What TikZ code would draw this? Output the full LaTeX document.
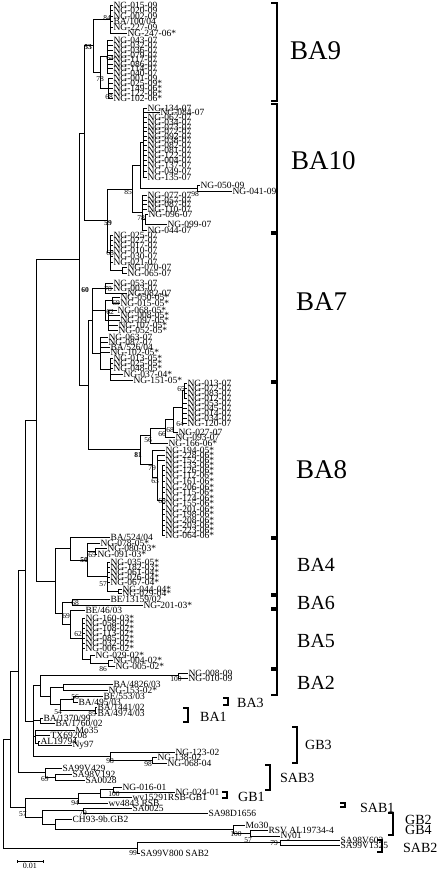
\documentclass[tikz,border=0pt]{standalone}
\usepackage{fontspec}
\setmainfont{Liberation Serif}
\usetikzlibrary{positioning}

\begin{document}
\begin{tikzpicture}[x=1pt, y=-1pt,
  br/.style={line width=0.55pt},
  brk/.style={line width=1.1pt},
  leaf/.style={anchor=west, inner sep=0.4pt, font=\fontsize{9.5}{9.5}\selectfont},
  bs/.style={inner sep=0, font=\fontsize{7.5}{7.5}\selectfont},
  bsb/.style={inner sep=0, font=\fontsize{7.5}{7.5}\selectfont\bfseries},
  grp/.style={anchor=west, inner sep=0}]
  \useasboundingbox (0,0) rectangle (440,871);
  % internal nodes of the tree
  \foreach \n/\x/\y in {A/110/19, B1/107/56.5, B2/108/88, B/100/72.3, N53/93/45.6,
      U1/143/142.5, N98/197/188, U/140/165.3, V1/145/219, V/142/212.5, N85/132/188.9,
      T2/122/270, T68/110/252.5, N59/107/220.7, R1/84/133.2,
      C1/105/288, C2a/112/300, C2b/108/320, C2/105/310, C3a/110/369, C3/100/353, S7/92/320.5,
      D1/184/390.5, D/182/406.8, N68b/173/419.4, N66/165/428.2, N56/150/435.6,
      N68c/162/500, N63/157/477.5, N79/152/463.8, N81/140/449.7, R2/88/385.1, N60/79/259.2,
      E65/95/551, E2/118/591, E57/107/576.5, E50/87/559.8, E/70/548.4, F68/72/602,
      G86/108/663, G3/90/659, G62/82/638.5, G69/70/624.3, H1/62/613.1, H/55/580.8, T/36/420,
      J100/178/675.5, K1/63/687, K56/73/699, K85/95/710, K54/60/704.5, K2/50/695.8, L/40/685.6,
      M1/40/720.5, M3/38/743, M2/35/736.5, N98b/152/760, N98c/110/756, A1/33/720.8, A2/25/570.4,
      S2/55/777, S69/45/772.5, X1/18/671.5,
      P100/113/789.5, P1/100/793.3, P94/78/798.1, P79/83/810.5, Q57/250/833, Q100/233/829,
      P55/55/824, P42/42/817.3, N57/25/807.7, X0/10/739.6,
      Y79/280/842.5, Y99/137/848, Rt/3/793.8}
    \coordinate (\n) at (\x,\y);
  % branches between internal nodes
  \foreach \p/\c in {N53/A, N53/B, B/B1, B/B2, R1/N53, R1/N59, N59/N85, N59/T68, N85/U, N85/V,
      U/U1, U/N98, V/V1, T68/T2, N60/R1, N60/R2, R2/S7, R2/N81, S7/C1, S7/C2, S7/C3,
      C2/C2a, C2/C2b, C3/C3a, N81/N56, N81/N79, N56/N66, N66/N68b, N68b/D, D/D1,
      N79/N63, N63/N68c, T/N60, T/H, H/E, H/H1, E/E50, E50/E65, E50/E57, E57/E2,
      H1/F68, H1/G69, G69/G62, G62/G3, G3/G86, A2/T, A2/A1, A1/L, A1/M1, A1/M2, A1/N98c,
      L/J100, L/K2, K2/K1, K2/K54, K54/K56, K54/K85, M2/M3, N98c/N98b, X1/A2, X1/S69,
      S69/S2, X0/X1, X0/N57, N57/P94, N57/P42, P94/P1, P1/P100, P42/P79, P42/P55,
      P55/Q100, Q100/Q57, Rt/X0, Rt/Y99, Y99/Y79}
    \draw[br] (\p) |- (\c);
  % leaves
  \foreach \p/\y/\x/\t [count=\i] in {
      A/5/113/NG-015-09, A/10.5/113/NG-020-09, A/16/113/NG-002-09, A/21.5/113/{BA/100/04},
      A/27/113/NG-227-09, A/33/127/NG-247-06*,
      B1/40/113/NG-043-07, B1/45/113/NG-032-07, B1/50/113/NG-036-07, B1/55/113/NG-079-07,
      B1/59.5/113/NG-117-07, B1/64/113/NG-086-07, B1/68.5/113/NG-114-07, B1/73/113/NG-040-07,
      B2/78/113/NG-001-09, B2/83/113/NG-025-09*, B2/88/113/NG-149-06*, B2/93/113/NG-122-06*,
      B2/98/113/NG-102-06*,
      U1/108/147/NG-134-07, U1/112.5/160/NG-084-07, U1/117/147/NG-062-07, U1/122/147/NG-034-07,
      U1/127/147/NG-073-07, U1/131.5/147/NG-072-07, U1/136/147/NG-092-07, U1/140.5/147/NG-038-07,
      U1/145/147/NG-082-07, U1/150/147/NG-081-07, U1/155/147/NG-122-07, U1/160/147/NG-004-07,
      U1/165/147/NG-137-07, U1/171/147/NG-049-07, U1/177/147/NG-135-07,
      N98/185/200/NG-050-09, N98/191/232/NG-041-09,
      V/195/147/NG-077-07, V/200/147/NG-057-07, V/204.5/147/NG-087-07, V/209/147/NG-110-07,
      V1/214/148/NG-096-07, V1/224/167/NG-099-07, V/230/147/NG-044-07,
      T68/235/113/NG-025-07, T68/240/113/NG-027-07, T68/245/113/NG-017-07, T68/250.5/113/NG-010-07,
      T68/256/113/NG-030-07, T68/262/113/NG-021-07, T2/267/127/NG-070-07, T2/273/127/NG-065-07,
      C1/283/113/NG-053-07, C1/288/113/NG-003-07, C1/293/127/NG-082-07,
      C2a/297/120/NG-050-05*, C2a/303/120/NG-015-05*,
      C2b/310/117/NG-068-05*, C2b/315/120/NG-008-05*, C2b/320/120/NG-097-05*,
      C2b/325/118/NG-107-05*, C2b/330/118/NG-052-05*,
      C3/337/108/NG-063-07, C3/342/108/NG-087-07, C3/347/110/{BA/526/04}, C3/352/110/NG-102-05*,
      C3a/358/113/NG-013-05*, C3a/363/113/NG-025-05*, C3a/368/113/NG-048-05*,
      C3a/374/123/NG-037-04*, C3a/380/133/NG-151-05*,
      D1/383/187/NG-013-07, D1/388/187/NG-072-07, D1/393/187/NG-083-07, D1/398/187/NG-012-07,
      D/403/187/NG-053-07, D/408/187/NG-045-07, D/413/187/NG-014-07, D/418/187/NG-034-07,
      D/423/187/NG-120-07, N68b/432/178/NG-027-07, N66/437/175/NG-093-07, N56/443/168/NG-166-06*,
      N79/450/165/NG-194-05*, N63/455/165/NG-228-06*, N63/460/165/NG-152-06*,
      N68c/465/165/NG-133-06*, N68c/470/165/NG-126-06*, N68c/475/165/NG-112-06*,
      N68c/481/165/NG-161-06*, N68c/487/165/NG-206-06*, N68c/492/165/NG-115-06*,
      N68c/498/165/NG-174-06*, N68c/503/165/NG-155-06*, N68c/509/165/NG-201-06*,
      N68c/514/165/NG-198-06*, N68c/520/165/NG-208-06*, N68c/525/165/NG-203-06*,
      N68c/530/165/NG-223-06*, N68c/535/165/NG-064-06*,
      E/537/110/{BA/524/04}, E50/543/100/NG-078-05*, E65/548/107/NG-080-03*, E65/554/97/NG-091-03*,
      E57/562/110/NG-035-05*, E57/567/110/NG-182-03*, E57/572/110/NG-061-04*,
      E57/577/110/NG-026-04*, E57/582/110/NG-067-04*, E2/589/122/NG-044-04*, E2/593/122/NG-029-04*,
      F68/599/110/{BE/13159/02}, F68/605/143/NG-201-03*,
      G69/610/85/{BE/46/03}, G62/618/85/NG-160-03*, G62/623/85/NG-058-02*, G62/628/85/NG-108-02*,
      G62/633/85/NG-113-02*, G62/638/85/NG-085-02*, G62/643/85/NG-032-02*, G62/648/85/NG-006-02*,
      G3/655/95/NG-029-02*, G86/660/113/NG-004-02*, G86/666/115/NG-005-02*,
      J100/673/188/NG-008-09, J100/678/188/NG-010-09,
      K1/684/113/{BA/4826/03}, K1/690/108/NG-153-02*, K56/696/103/{BE/553/03}, K56/702/78/{BA/495/03},
      K85/707/97/{BA/1441/02}, K85/713/97/{BA/4974/03}, M1/718/43/{BA/1370/99}, M1/723/55/{BA/1760/02},
      M2/730/75/Mo35, M2/735/50/TX69208, M3/741/40/AL19794, M3/745/72/Ny97,
      N98c/752/175/NG-123-02, N98b/757/157/NG-138-02, N98b/763/167/NG-068-04,
      S69/768/62/SA99V429, S2/774/72/SA98V192, S2/780/85/SA0028,
      P100/787/122/NG-016-01, P100/792/175/NG-024-01, P1/797/132/wv15291RSB-GB1,
      P94/803/108/{wv4843 RSB}, P79/808/132/SA0025, P79/813/208/SA98D1656,
      P55/819/72/CH93-9b.GB2, Q100/825/245/Mo30, Q57/830/268/{RSV AL19734-4}, Q57/836/280/Ny01,
      Y79/840/340/SA98V602, Y79/845/340/SA99V1325, Y99/853/140/{SA99V800 SAB2}}
    {\node[leaf] (l\i) at (\x,\y) {\t};
     \draw[br] (\p) |- (l\i.west);}
  % bootstrap values
  \foreach \x/\y/\t [count=\i] in {107/18/84, 110/58/64, 100/79/78, 109/97/68, 128/192/85,
      195/194/98, 141/218/78, 110/253/68, 108/289/78, 116/303/69, 110/312/62, 181/389/65,
      180/424/64, 170/430/68, 162/434/66, 148/440/56, 152/468/79, 155/481/63, 162/501/68,
      92/555/65, 103/584/57, 75/603/68, 66/616/69, 78/634/62, 103/669/86, 176/679/100,
      75/697/56, 58/712/54, 92/714/85, 110/761/98, 148/764/98, 45/779/69, 114/794/100,
      75/803/94, 83/813/79, 23/814/57, 236/834/100, 248/840/57, 274/843/79, 133/853/99}
    \node[bs] (bs\i) at (\x,\y) {\t};
  \foreach \x/\y/\t [count=\i] in {88/47/53, 108/223/59, 85/290/60, 138/455/81, 84/560/50}
    \node[bsb] (bb\i) at (\x,\y) {\t};
  % genotype brackets
  \foreach \n/\ya/\yb/\lx/\ly/\fs in {BA9/3/101/290/51/27, BA10/104/232/291/161/27,
      BA7/234/381/296/302/27, BA8/383/537/296/470/27, BA4/539/594/297/565/20,
      BA6/596/608/297/603/20, BA5/610/668/297/641/20, BA2/670/695/297/683/20}
    {\draw[brk] (271,\ya) -- (277,\ya) -- (277,\yb) -- (271,\yb);
     \node[grp, font=\fontsize{\fs}{\fs}\selectfont] (g\n) at (\lx,\ly) {\n};}
  \foreach \n/\bx/\ya/\yb/\lx/\ly in {BA3/228/698/705/237/703, BA1/188/708/722/200/717,
      GB3/297/727/763/305/745, SAB3/270/765/790/280/778, GB1/227/792/798/238/797,
      SAB1/345/803/807/360/808, SAB2/382/840/852/403/848}
    {\draw[brk] (\bx-5,\ya) -- (\bx,\ya) -- (\bx,\yb) -- (\bx-5,\yb);
     \node[grp, font=\fontsize{14}{14}\selectfont] (g\n) at (\lx,\ly) {\n};}
  \draw[brk] (388,813) -- (393,813) -- (393,835) -- (388,835);
  \node[grp, font=\fontsize{14}{14}\selectfont] (gGB2) at (405,820) {GB2};
  \node[grp, font=\fontsize{14}{14}\selectfont] (gGB4) at (405,830) {GB4};
  % scale bar
  \coordinate (sbL) at (17,861);
  \coordinate (sbR) at (43,861);
  \draw[br] (sbL) -- (sbR);
  \draw[br] ([yshift=-1.5pt]sbL) -- ([yshift=1.5pt]sbL);
  \draw[br] ([yshift=-1.5pt]sbR) -- ([yshift=1.5pt]sbR);
  \node[bs, font=\fontsize{8}{8}\selectfont] (sbt) at (30,866) {0.01};
\end{tikzpicture}
\end{document}
